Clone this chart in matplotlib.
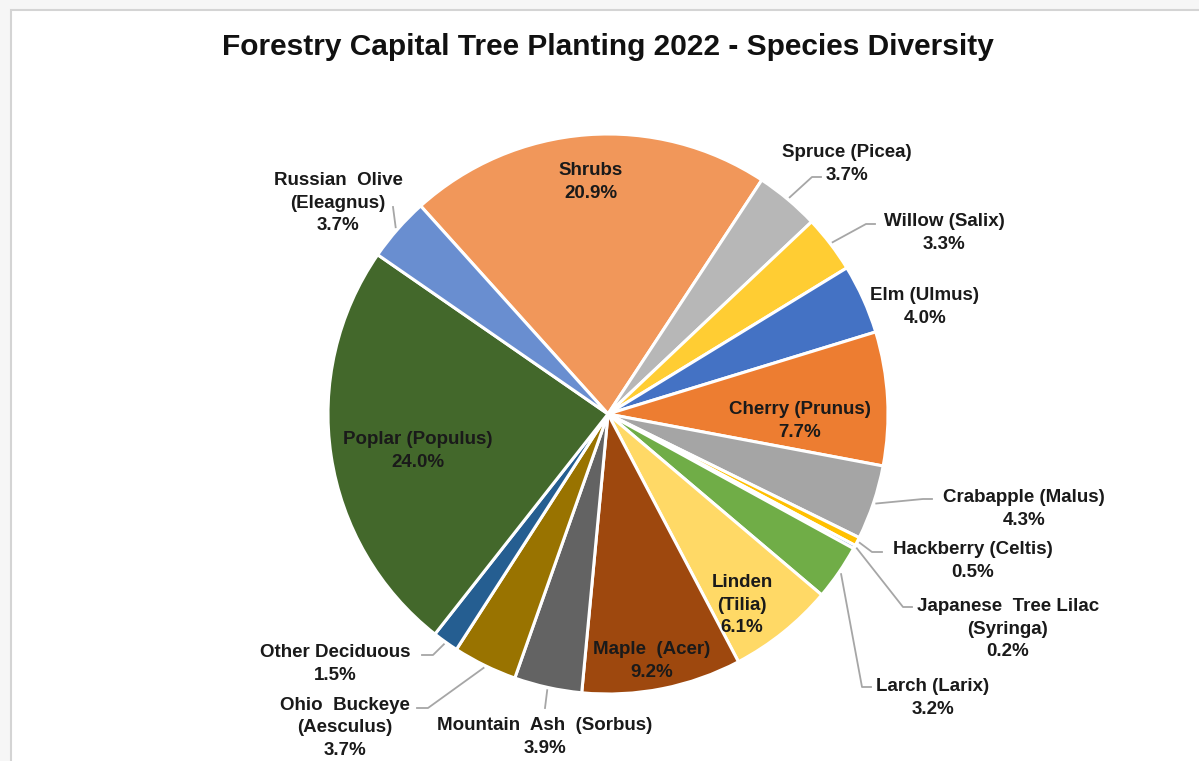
import numpy as np
import matplotlib.pyplot as plt
from matplotlib.patches import Rectangle

plt.rcParams["font.family"] = ["Liberation Sans", "DejaVu Sans"]

# species shares, in clockwise order starting from Shrubs
species = [
    "Shrubs", "Spruce (Picea)", "Willow (Salix)", "Elm (Ulmus)",
    "Cherry (Prunus)", "Crabapple (Malus)", "Hackberry (Celtis)",
    "Japanese  Tree Lilac\n(Syringa)", "Larch (Larix)", "Linden\n(Tilia)",
    "Maple  (Acer)", "Mountain  Ash  (Sorbus)", "Ohio  Buckeye\n(Aesculus)",
    "Other Deciduous", "Poplar (Populus)", "Russian  Olive\n(Eleagnus)",
]
shares = [20.9, 3.7, 3.3, 4.0, 7.7, 4.3, 0.5, 0.2, 3.2, 6.1, 9.2, 3.9, 3.7, 1.5, 24.0, 3.7]
colors = [
    "#F1975A", "#B7B7B7", "#FFCD33", "#4472C4", "#ED7D31", "#A5A5A5",
    "#FFC000", "#5B9BD5", "#70AD47", "#FFD966", "#9E480E", "#636363",
    "#997300", "#255E91", "#43682B", "#698ED0",
]

W, H = 1199, 761
CX, CY, R = 608, 414, 280

# label placement in pixel coords (y down): text centre, leader elbow, leader end
label_pos = [
    (591, 182, None, None), (847, 164, (812, 177), (821, 177)),
    (944, 233, (866, 224), (875, 224)), (925, 307, None, None),
    (800, 421, None, None), (1024, 509, (923, 499), (932, 499)),
    (973, 561, (872, 552), (882, 552)), (1008, 629, (903, 607), (912, 607)),
    (933, 698, (862, 687), (871, 687)), (742, 605, None, None),
    (652, 661, None, None), (545, 737, (545, 708), (545, 708)),
    (345, 728, (428, 708), (417, 708)), (335, 664, (433, 655), (422, 655)),
    (418, 451, None, None), (338, 203, (393, 207), (393, 207)),
]

fig = plt.figure(figsize=(W / 100, H / 100), dpi=100, facecolor="#F6F6F6")
ax = fig.add_axes([0, 0, 1, 1])

ax.add_patch(Rectangle((11, -20), W + 20, H - 10 + 20, facecolor="white",
                       edgecolor="#D4D4D4", linewidth=1.5, zorder=0))

wedges, _ = ax.pie(shares, colors=colors, startangle=132, counterclock=False,
                   center=(CX, H - CY), radius=R, frame=True,
                   wedgeprops=dict(edgecolor="white", linewidth=2.2))
ax.set_xlim(0, W)
ax.set_ylim(0, H)
ax.axis("off")

for w, name, val, (tx, ty, elbow, end) in zip(wedges, species, shares, label_pos):
    ax.text(tx, H - ty, f"{name}\n{val:.1f}%", ha="center", va="center",
            fontsize=13.5, fontweight="bold", color="#1A1A1A", linespacing=1.45)
    if elbow is None:
        continue
    mid = np.deg2rad((w.theta1 + w.theta2) / 2)
    px = CX + R * 1.01 * np.cos(mid)
    py = H - CY + R * 1.01 * np.sin(mid)
    ax.plot([px, elbow[0], end[0]], [py, H - elbow[1], H - end[1]],
            color="#A6A6A6", linewidth=1.3, zorder=3)

ax.text(608, H - 47, "Forestry Capital Tree Planting 2022 - Species Diversity",
        ha="center", va="center", fontsize=21.5, fontweight="bold", color="#111111")

fig.savefig("out.png", dpi=100, facecolor=fig.get_facecolor())
